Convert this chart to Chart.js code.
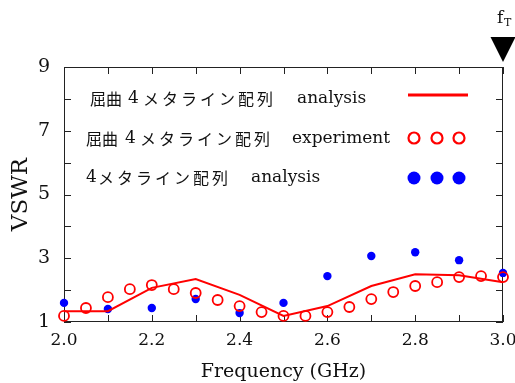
<!DOCTYPE html>
<html>
<head>
<meta charset="utf-8">
<script src="https://cdn.jsdelivr.net/npm/chart.js@4.4.0/dist/chart.umd.min.js"></script>
<style>
  html, body { margin: 0; padding: 0; background: #fff; }
</style>
</head>
<body>
<canvas id="vswrChart" width="515" height="383"></canvas>
<script>
// frequencies (GHz)
const freqAnalysis = [2.0, 2.1, 2.2, 2.3, 2.4, 2.5, 2.6, 2.7, 2.8, 2.9, 3.0];
const freqExperiment = [2.0, 2.05, 2.1, 2.15, 2.2, 2.25, 2.3, 2.35, 2.4, 2.45, 2.5,
                        2.55, 2.6, 2.65, 2.7, 2.75, 2.8, 2.85, 2.9, 2.95, 3.0];

// VSWR values
const bentAnalysis = [1.34, 1.34, 2.07, 2.35, 1.85, 1.19, 1.5, 2.13, 2.5, 2.47, 2.25];
const bentExperiment = [1.19, 1.44, 1.78, 2.03, 2.16, 2.03, 1.91, 1.69, 1.5, 1.31, 1.19,
                        1.19, 1.31, 1.47, 1.72, 1.94, 2.13, 2.25, 2.41, 2.44, 2.41];
const straightAnalysis = [1.6, 1.41, 1.44, 1.72, 1.28, 1.6, 2.44, 3.07, 3.19, 2.94, 2.54];

// legend text pieces: [bent-prefix, number, katakana/kanji, english]
const legendParts = [
  ['屈曲', '4', 'メタライン配列', 'analysis'],
  ['屈曲', '4', 'メタライン配列', 'experiment'],
  ['', '4', 'メタライン配列', 'analysis']
];
const markerFreq = 3.0; // f_T

const serif = "'DejaVu Serif', 'Liberation Serif', serif";
const cjk = "'Noto Sans CJK JP', sans-serif";

const toPoints = (xs, ys) => xs.map((x, i) => ({ x, y: ys[i] }));

// frame with inward ticks on all four sides
const framePlugin = {
  id: 'frame',
  beforeDatasetsDraw(chart) {
    const { ctx, chartArea: a, scales: { x, y } } = chart;
    const len = 7;
    ctx.save();
    ctx.strokeStyle = '#222';
    ctx.lineWidth = 1;
    ctx.strokeRect(a.left + 0.5, a.top + 0.5, a.right - a.left - 1, a.bottom - a.top - 1);
    ctx.beginPath();
    x.ticks.forEach(t => {
      const px = Math.round(x.getPixelForValue(t.value)) + 0.5;
      ctx.moveTo(px, a.bottom); ctx.lineTo(px, a.bottom - len);
      ctx.moveTo(px, a.top); ctx.lineTo(px, a.top + len);
    });
    y.ticks.forEach(t => {
      const py = Math.round(y.getPixelForValue(t.value)) + 0.5;
      ctx.moveTo(a.left, py); ctx.lineTo(a.left + len, py);
      ctx.moveTo(a.right, py); ctx.lineTo(a.right - len, py);
    });
    ctx.stroke();
    ctx.restore();
  }
};

// legend inside the plot, text left, sample right
const legendPlugin = {
  id: 'innerLegend',
  afterDraw(chart) {
    const { ctx } = chart;
    // x positions of each text piece, row middle y
    const rows = [
      { y: 99, xs: [90, 128, 143, 297] },
      { y: 139, xs: [86, 125, 140, 292] },
      { y: 178, xs: [0, 86, 98, 251] }
    ];
    ctx.save();
    ctx.fillStyle = '#111';
    ctx.textBaseline = 'middle';
    rows.forEach((r, i) => {
      const p = legendParts[i];
      ctx.font = '16px ' + cjk;
      ctx.letterSpacing = '0px';
      if (p[0]) ctx.fillText(p[0], r.xs[0], r.y);
      ctx.font = '17px ' + serif;
      ctx.fillText(p[1], r.xs[1], r.y);
      ctx.font = '16px ' + cjk;
      ctx.letterSpacing = '3px';
      ctx.fillText(p[2], r.xs[2], r.y);
      ctx.letterSpacing = '0px';
      ctx.font = '17px ' + serif;
      ctx.fillText(p[3], r.xs[3], r.y);
    });
    // line sample
    ctx.strokeStyle = '#ff0000';
    ctx.lineWidth = 3;
    ctx.beginPath(); ctx.moveTo(408, 95); ctx.lineTo(468, 95); ctx.stroke();
    // open circles
    ctx.lineWidth = 2.2;
    [414, 437, 459].forEach(cx => {
      ctx.beginPath(); ctx.arc(cx, 138, 5.5, 0, Math.PI * 2); ctx.stroke();
    });
    // filled dots
    ctx.fillStyle = '#0000ff';
    [414, 437, 459].forEach(cx => {
      ctx.beginPath(); ctx.arc(cx, 178, 6.5, 0, Math.PI * 2); ctx.fill();
    });
    ctx.restore();
  }
};

// f_T marker above the plot
const ftPlugin = {
  id: 'ftMarker',
  afterDraw(chart) {
    const { ctx, scales: { x } } = chart;
    const px = x.getPixelForValue(markerFreq);
    ctx.save();
    ctx.fillStyle = '#000';
    ctx.beginPath();
    ctx.moveTo(px - 12.5, 37); ctx.lineTo(px + 12.5, 37); ctx.lineTo(px, 62);
    ctx.closePath(); ctx.fill();
    ctx.fillStyle = '#111';
    ctx.font = '17px ' + serif;
    ctx.textBaseline = 'alphabetic';
    ctx.fillText('f', px - 6, 23);
    ctx.font = '11px ' + serif;
    ctx.fillText('T', px + 1, 26);
    ctx.restore();
  }
};

new Chart(document.getElementById('vswrChart'), {
  type: 'scatter',
  data: {
    datasets: [
      {
        label: 'bent analysis',
        type: 'line',
        data: toPoints(freqAnalysis, bentAnalysis),
        borderColor: '#ff0000',
        borderWidth: 2,
        pointRadius: 0,
        tension: 0,
        clip: false
      },
      {
        label: 'bent experiment',
        data: toPoints(freqExperiment, bentExperiment),
        borderColor: '#ff0000',
        backgroundColor: 'rgba(0,0,0,0)',
        borderWidth: 1.8,
        pointRadius: 5,
        clip: false
      },
      {
        label: 'straight analysis',
        data: toPoints(freqAnalysis, straightAnalysis),
        borderColor: '#0000ff',
        backgroundColor: '#0000ff',
        pointRadius: 4.2,
        borderWidth: 0,
        clip: false
      }
    ]
  },
  options: {
    responsive: false,
    animation: false,
    devicePixelRatio: 1,
    layout: { padding: { top: 67, right: 12, left: 0, bottom: 0 } },
    plugins: {
      legend: { display: false },
      tooltip: { enabled: false }
    },
    scales: {
      x: {
        type: 'linear',
        min: 2.0,
        max: 3.0,
        afterFit: s => { s.height = 61; s.paddingLeft = 0; s.paddingRight = 0; },
        grid: { display: false, drawTicks: false },
        border: { display: false },
        ticks: {
          stepSize: 0.1,
          autoSkip: false,
          maxRotation: 0,
          padding: 8,
          color: '#111',
          font: { family: serif, size: 17 },
          callback: v => (Math.round(v * 10) % 2 === 0 ? v.toFixed(1) : '')
        },
        title: {
          display: true,
          text: 'Frequency (GHz)',
          color: '#111',
          font: { family: serif, size: 19 },
          padding: { top: 0, bottom: 0 }
        }
      },
      y: {
        min: 1,
        max: 9,
        afterFit: s => { s.width = 64; s.paddingTop = 0; s.paddingBottom = 0; },
        grid: { display: false, drawTicks: false },
        border: { display: false },
        ticks: {
          stepSize: 1,
          padding: 14,
          color: '#111',
          font: { family: serif, size: 19 },
          callback: v => (v % 2 === 1 ? v : '')
        },
        title: {
          display: true,
          text: 'VSWR',
          color: '#111',
          font: { family: serif, size: 23 },
          padding: { top: 7, bottom: 0 }
        }
      }
    }
  },
  plugins: [framePlugin, legendPlugin, ftPlugin]
});
</script>
</body>
</html>
